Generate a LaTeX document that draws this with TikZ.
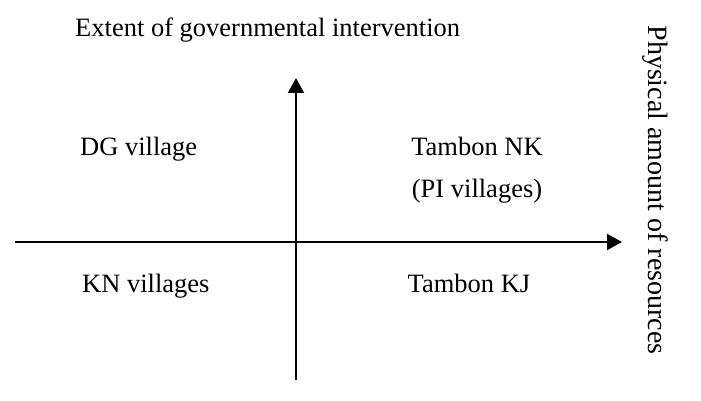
\documentclass[tikz,border=0pt]{standalone}
\usepackage{fontspec}
\setmainfont{Liberation Serif}
\usetikzlibrary{arrows.meta}
\begin{document}
\begin{tikzpicture}[x=1pt,y=-1pt,
  lbl/.style={font=\fontsize{26.5}{30}\selectfont, inner sep=0pt},
  axis/.style={line width=2pt, -{Triangle[length=15pt,width=16pt]}}]
\useasboundingbox[fill=white] (0,0) rectangle (701,401);
\node[lbl,anchor=base west] (title) at (75,37) {Extent of governmental intervention};
\coordinate (vb) at (296,380);
\coordinate (vt) at (296,78);
\coordinate (hl) at (15,242);
\coordinate (hr) at (622,242);
\draw[axis] (vb) -- (vt);
\draw[axis] (hl) -- (hr);
\node[lbl,anchor=base west] (dg) at (80,155) {DG village};
\node[lbl,anchor=base] (nk) at (477,155) {Tambon NK};
\node[lbl,anchor=base] (pi) at (477,197) {(PI villages)};
\node[lbl,anchor=base west] (kn) at (82,292) {KN villages};
\node[lbl,anchor=base] (kj) at (469,292) {Tambon KJ};
\node[lbl,font=\fontsize{28}{32}\selectfont,rotate=-90,anchor=base] (res) at (648,190) {Physical amount of resources};
\end{tikzpicture}
\end{document}
